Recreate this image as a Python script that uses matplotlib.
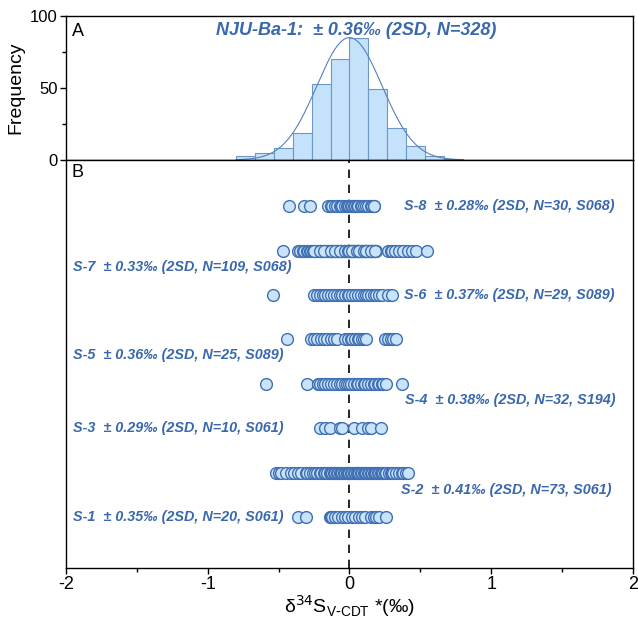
import numpy as np
import matplotlib
matplotlib.use("Agg")
import matplotlib.pyplot as plt
from matplotlib.ticker import MultipleLocator

plt.rcParams['font.family'] = ['Liberation Sans', 'DejaVu Sans']
plt.rcParams['axes.unicode_minus'] = False

# histogram of NJU-Ba-1 (bin edges and counts)
bin_edges = np.linspace(-0.8, 0.8, 13)
counts = [3, 5, 8, 19, 53, 70, 85, 49, 22, 10, 3, 1]
fit_amp, fit_mu, fit_sigma = 85.0, 0.0, 0.23

# replicate measurements of each sample, delta34S (per mil)
s8 = [-0.43, -0.32, -0.28, -0.15, -0.13, -0.12, -0.10, -0.09, -0.07, -0.06,
      -0.05, -0.03, -0.02, -0.01, 0.00, 0.01, 0.02, 0.03, 0.04, 0.05,
      0.06, 0.08, 0.09, 0.10, 0.12, 0.13, 0.15, 0.16, 0.17, 0.17]
s7 = [-0.47,
      -0.36, -0.35, -0.33, -0.32, -0.30, -0.29, -0.28, -0.27, -0.26, -0.25,
      -0.24, -0.23, -0.22, -0.21, -0.20, -0.20, -0.19, -0.18, -0.17, -0.16,
      -0.15, -0.15, -0.14, -0.13, -0.12, -0.12, -0.11, -0.10, -0.09, -0.09,
      -0.08, -0.07, -0.06, -0.06, -0.05, -0.04, -0.04, -0.03, -0.02, -0.02,
      -0.01, 0.00, 0.00, 0.01, 0.01, 0.02, 0.02, 0.03, 0.03, 0.04,
      0.04, 0.05, 0.05, 0.06, 0.06, 0.07, 0.07, 0.08, 0.08, 0.09,
      0.09, 0.10, 0.10, 0.11, 0.11, 0.12, 0.12, 0.13, 0.13, 0.14,
      0.14, 0.15, 0.15, 0.16, 0.16, 0.17, 0.17, 0.18, 0.18, 0.19,
      -0.25, -0.21, -0.18, -0.13, -0.10, -0.07, -0.03, -0.01, 0.00, 0.02,
      0.05, 0.07, 0.10, 0.12, 0.15, 0.18, 0.31, 0.40,
      0.27, 0.29, 0.30, 0.32, 0.35, 0.38, 0.41, 0.44, 0.47, 0.55]
s6 = [-0.54, -0.25, -0.23, -0.21, -0.19, -0.17, -0.15, -0.13, -0.11, -0.09,
      -0.07, -0.05, -0.03, -0.01, 0.00, 0.02, 0.04, 0.06, 0.08, 0.10,
      0.12, 0.13, 0.15, 0.17, 0.19, 0.21, 0.23, 0.27, 0.30]
s5 = [-0.44, -0.27, -0.25, -0.23, -0.20, -0.18, -0.16, -0.13, -0.11, -0.09,
      -0.03, -0.01, 0.01, 0.02, 0.04, 0.06, 0.07, 0.09, 0.10, 0.12,
      0.25, 0.27, 0.29, 0.31, 0.33]
s4 = [-0.59, -0.30, -0.22, -0.21, -0.19, -0.17, -0.15, -0.13, -0.11, -0.09,
      -0.07, -0.05, -0.03, -0.02, 0.00, 0.01, 0.03, 0.05, 0.06, 0.08,
      0.10, 0.11, 0.13, 0.15, 0.17, 0.18, 0.20, 0.21, 0.23, 0.24,
      0.26, 0.37]
s3 = [-0.21, -0.17, -0.14, -0.07, -0.05, 0.03, 0.09, 0.13, 0.15, 0.22]
s2 = [-0.52, -0.50, -0.48, -0.45, -0.41, -0.39, -0.36, -0.34, -0.31, -0.30,
      -0.28, -0.26, -0.24, -0.23, -0.21, -0.20, -0.18, -0.17, -0.16, -0.14,
      -0.13, -0.12, -0.11, -0.10, -0.09, -0.08, -0.07, -0.06, -0.05, -0.04,
      -0.03, -0.02, -0.02, -0.01, 0.00, 0.00, 0.01, 0.02, 0.03, 0.04,
      0.05, 0.05, 0.06, 0.07, 0.08, 0.09, 0.10, 0.11, 0.12, 0.13,
      0.14, 0.15, 0.16, 0.17, 0.18, 0.19, 0.20, 0.21, 0.22, 0.23,
      0.24, 0.25, 0.26, 0.28, 0.29, 0.30, 0.31, 0.33, 0.35, 0.37,
      0.38, 0.40, 0.41]
s1 = [-0.36, -0.31, -0.14, -0.13, -0.12, -0.10, -0.08, -0.05, -0.03, -0.01,
      0.02, 0.04, 0.07, 0.09, 0.11, 0.15, 0.17, 0.19, 0.21, 0.26]

samples = [s1, s2, s3, s4, s5, s6, s7, s8]
names = ['S-1', 'S-2', 'S-3', 'S-4', 'S-5', 'S-6', 'S-7', 'S-8']
sd2 = [0.35, 0.41, 0.29, 0.38, 0.36, 0.37, 0.33, 0.28]
ref = ['S061', 'S061', 'S061', 'S194', 'S089', 'S089', 'S068', 'S068']

# label anchor (x, y) for each sample row
label_pos = [(-1.95, 1.0), (0.366, 1.61), (-1.95, 3.0), (0.394, 3.63),
             (-1.95, 4.65), (0.387, 6.0), (-1.95, 6.63), (0.387, 8.0)]

blue_text = '#3a68ad'
bar_face = '#c5e2fb'
bar_edge = '#6e97c8'
pt_face = '#c8e3fa'
pt_edge = '#3f70b3'

fig = plt.figure(figsize=(6.38, 6.2), dpi=100)
axA = fig.add_axes([0.1034, 0.7419, 0.8887, 0.2323])
axB = fig.add_axes([0.1034, 0.0839, 0.8887, 0.6580])

# panel A: histogram with normal curve
axA.bar(bin_edges[:-1], counts, width=np.diff(bin_edges), align='edge',
        color=bar_face, edgecolor=bar_edge, linewidth=0.8)
xc = np.linspace(-0.8, 0.8, 300)
axA.plot(xc, fit_amp * np.exp(-(xc - fit_mu) ** 2 / (2 * fit_sigma ** 2)),
         color='#5581bd', lw=0.8)
axA.set_xlim(-2, 2)
axA.set_ylim(0, 100)
axA.set_yticks([0, 50, 100])
axA.yaxis.set_minor_locator(MultipleLocator(25))
axA.set_xticks([0])
axA.set_xticklabels([])
axA.tick_params(direction='out', labelsize=12, length=4, width=1, pad=2)
axA.tick_params(which='minor', direction='out', length=3, width=1)
axA.set_ylabel('Frequency', fontsize=14, labelpad=4)
axA.text(-1.96, 89, 'A', fontsize=13, va='center')
axA.text(0.05, 90, 'NJU-Ba-1:  ± 0.36‰ (2SD, N=328)', fontsize=13,
         fontweight='bold', style='italic', color=blue_text,
         ha='center', va='center')

# panel B: individual measurements per sample
for i, vals in enumerate(samples):
    axB.scatter(vals, np.full(len(vals), i + 1), s=72, facecolor=pt_face,
                edgecolor=pt_edge, linewidths=1.0, zorder=3)
    lx, ly = label_pos[i]
    axB.text(lx, ly, f'{names[i]}  ± {sd2[i]:.2f}‰ (2SD, N={len(vals)}, {ref[i]})',
             fontsize=10.4, fontweight='bold', style='italic', color=blue_text,
             ha='left', va='center')

axB.axvline(0, color='black', lw=1.2, ls=(0, (5, 4)), zorder=2)
axB.set_xlim(-2, 2)
axB.set_ylim(-0.15, 9.04)
axB.set_yticks([])
axB.set_xticks([-2, -1, 0, 1, 2])
axB.xaxis.set_minor_locator(MultipleLocator(0.5))
axB.tick_params(direction='out', labelsize=13, length=4, width=1, pad=1.5)
axB.tick_params(which='minor', direction='out', length=3, width=1)
axB.text(-1.96, 8.77, 'B', fontsize=13, va='center')
axB.set_xlabel(r'δ$^{34}$S$_{\mathregular{V\text{-}CDT}}$ *(‰)', fontsize=14, labelpad=0.5)

for ax in (axA, axB):
    for sp in ax.spines.values():
        sp.set_linewidth(1.0)

fig.savefig('out.png', dpi=100)
